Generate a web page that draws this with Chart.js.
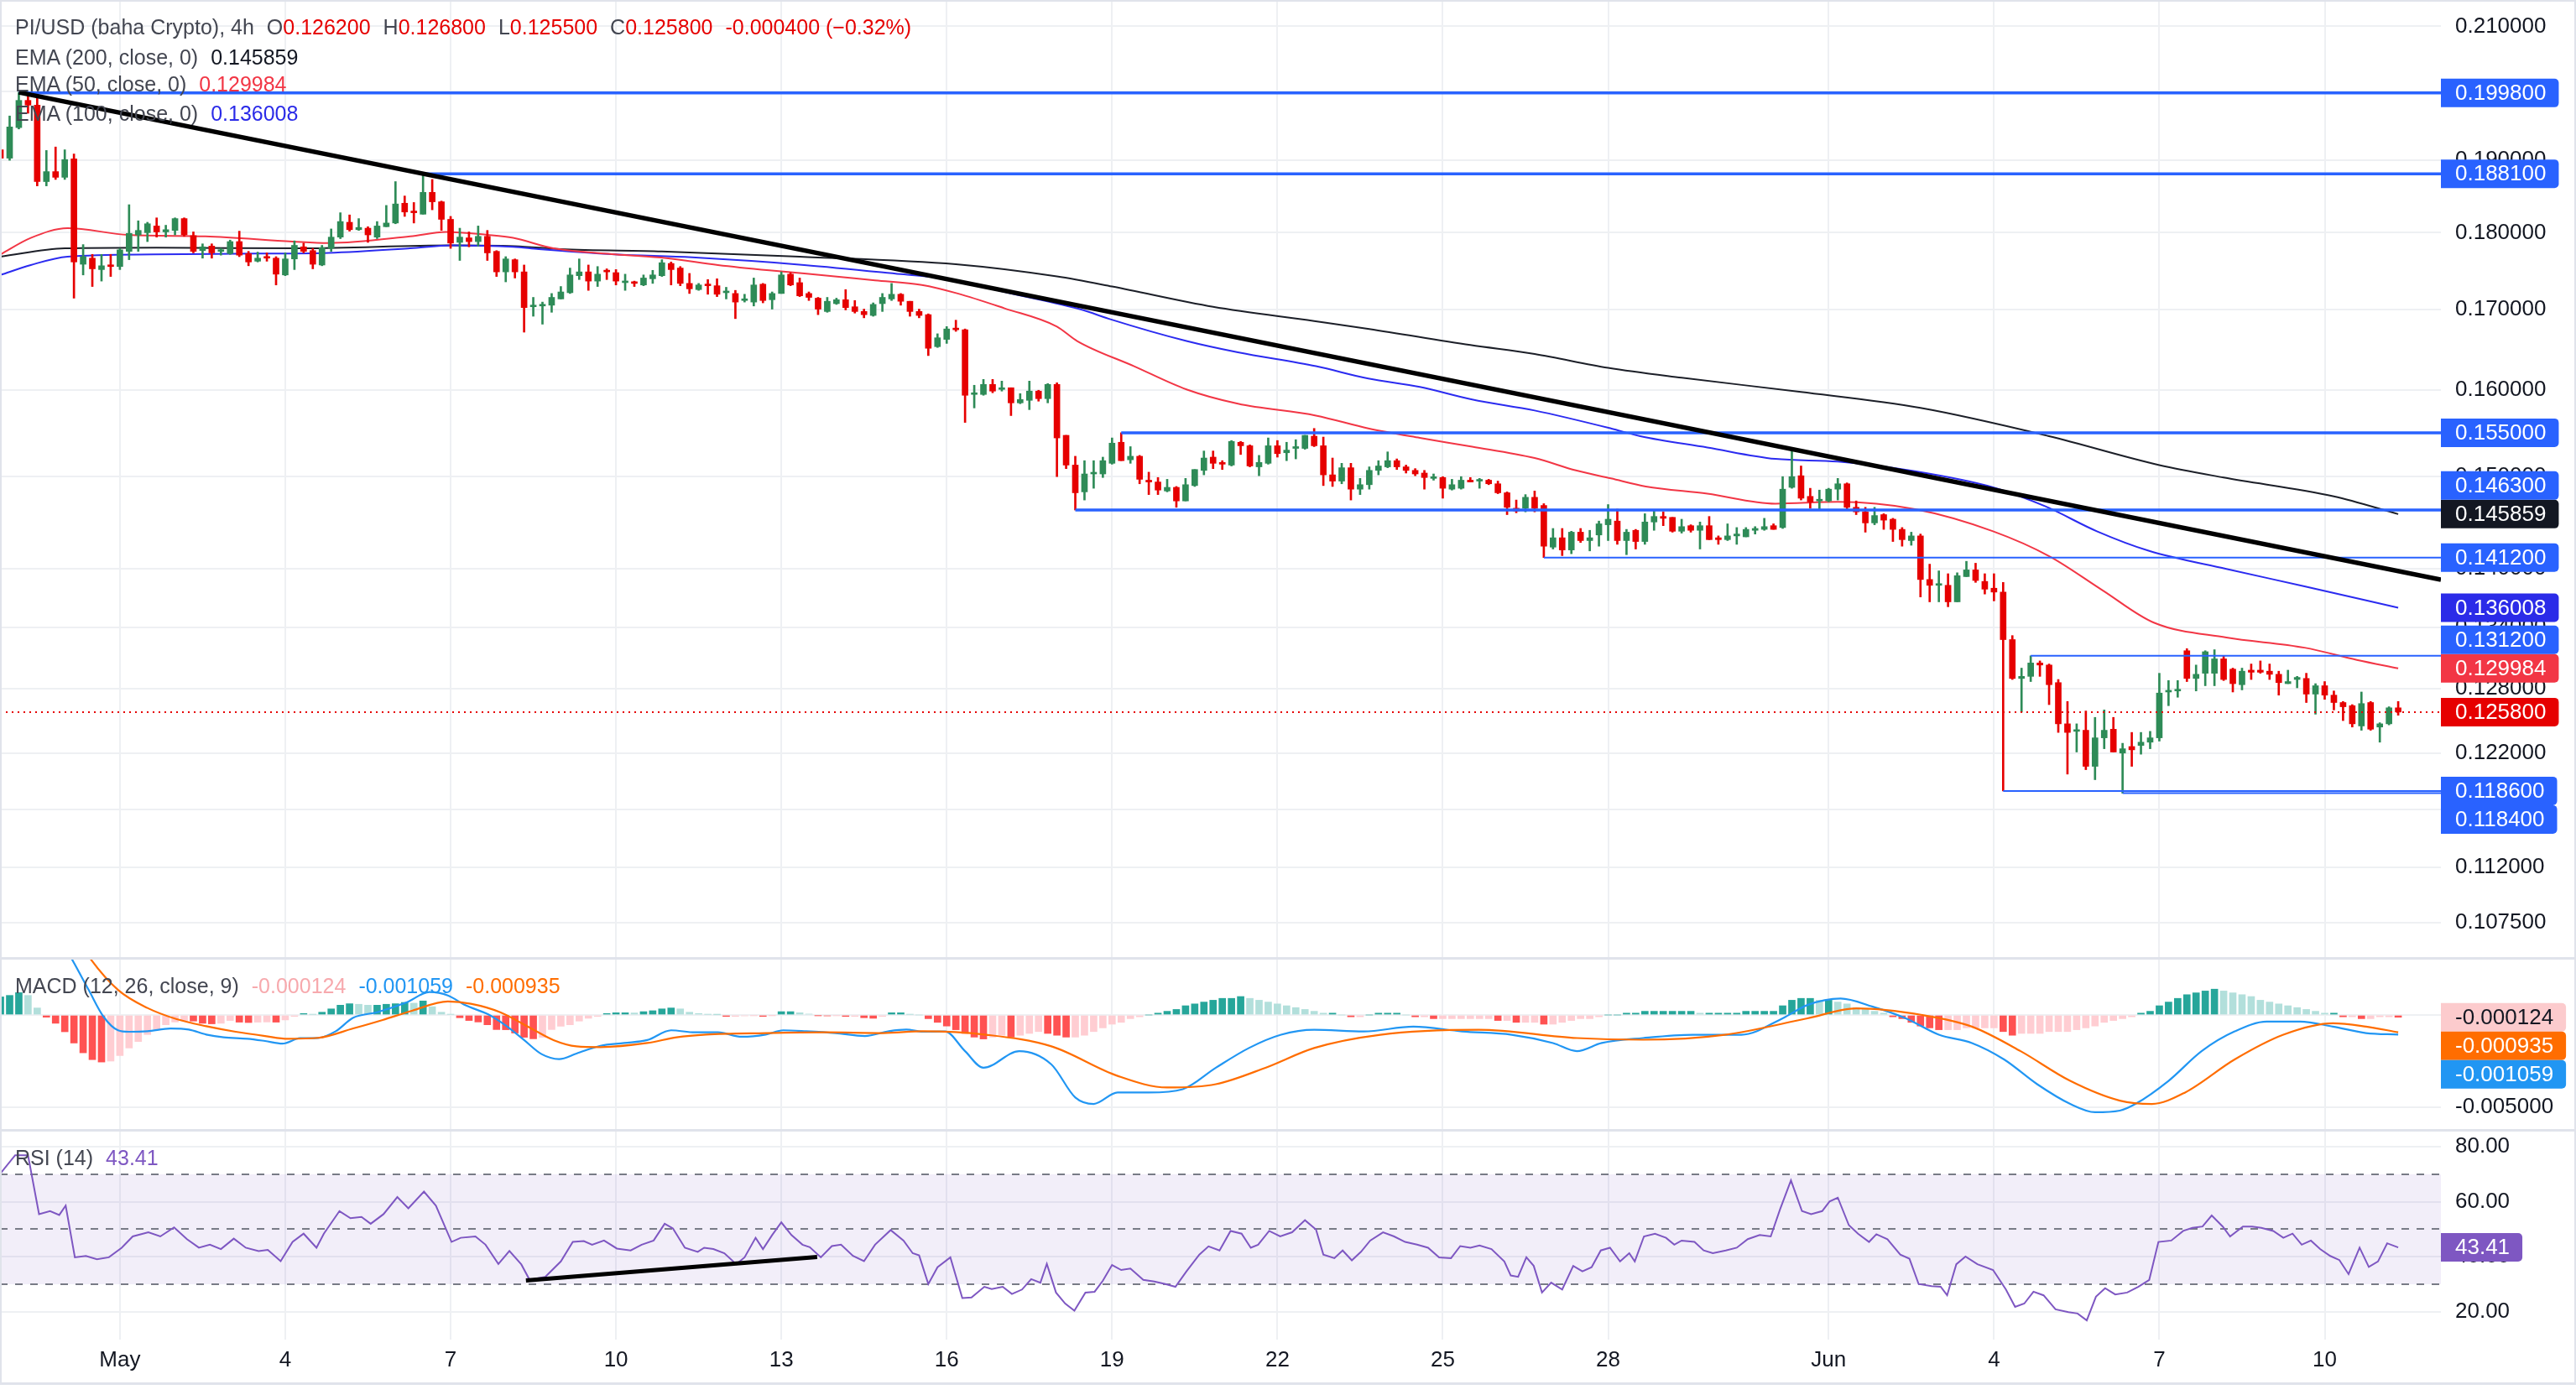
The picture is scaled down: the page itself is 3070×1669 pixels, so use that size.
<!DOCTYPE html>
<html>
<head>
<meta charset="utf-8">
<title>PI/USD 4h</title>
<script src="https://cdn.jsdelivr.net/npm/chart.js@4.4.1/dist/chart.umd.min.js"></script>
<style>
  html, body { margin: 0; padding: 0; background: #ffffff; }
  #chart { position: relative; width: 3070px; height: 1669px; overflow: hidden; font-family: "Liberation Sans", Arial, sans-serif; }
  #chart canvas { position: absolute; left: 0; }
  .rule { position: absolute; background: #e0e3eb; }
  .legend { position: absolute; left: 18px; font-size: 25px; line-height: 30px; color: #434651; white-space: pre; }
  .legend .g { margin-left: 15px; }
</style>
</head>
<body>
<div id="chart">
  <canvas id="pricePane" width="3070" height="1141" style="top:0"></canvas>
  <canvas id="macdPane" width="3070" height="202" style="top:1144px"></canvas>
  <canvas id="rsiPane" width="3070" height="300" style="top:1349px"></canvas>
  <div class="rule" style="left:0;top:0;width:3070px;height:2px"></div>
  <div class="rule" style="left:0;top:1141px;width:3070px;height:3px"></div>
  <div class="rule" style="left:0;top:1346px;width:3070px;height:3px"></div>
  <div class="rule" style="left:0;top:1648px;width:3070px;height:3px"></div>
  <div class="rule" style="left:0;top:0;width:2px;height:1650px"></div>
  <div class="rule" style="left:3068px;top:0;width:2px;height:1650px"></div>
  <div class="legend" id="lgMain" style="top:17px"></div>
  <div class="legend" id="lgE200" style="top:53px"></div>
  <div class="legend" id="lgE50" style="top:85px"></div>
  <div class="legend" id="lgE100" style="top:120px"></div>
  <div class="legend" id="lgMacd" style="top:1160px"></div>
  <div class="legend" id="lgRsi" style="top:1365px"></div>
</div>
<script>
// ---- data (4h candles, index 0 = Apr 28 20:00, index 13 = May 1 00:00) ----
const O = [
  0.1915,0.1903,0.1947,0.1987,0.1980,0.1870,0.1884,0.1876,0.1902,0.1758,
  0.1766,0.1751,0.1757,0.1755,0.1775,0.1797,0.1800,0.1809,0.1801,0.1803,
  0.1819,0.1796,0.1776,0.1782,0.1775,0.1772,0.1788,0.1772,0.1762,0.1767,
  0.1766,0.1744,0.1765,0.1781,0.1776,0.1757,0.1779,0.1794,0.1814,0.1804,
  0.1806,0.1794,0.1808,0.1813,0.1840,0.1829,0.1825,0.1855,0.1842,0.1818,
  0.1787,0.1793,0.1788,0.1795,0.1775,0.1748,0.1764,0.1748,0.1703,0.1704,
  0.1705,0.1713,0.1721,0.1743,0.1748,0.1736,0.1750,0.1747,0.1734,0.1734,
  0.1731,0.1739,0.1743,0.1759,0.1753,0.1733,0.1725,0.1732,0.1730,0.1721,
  0.1720,0.1711,0.1709,0.1732,0.1712,0.1720,0.1745,0.1734,0.1720,0.1714,
  0.1697,0.1707,0.1712,0.1703,0.1697,0.1692,0.1707,0.1713,0.1719,0.1710,
  0.1697,0.1693,0.1653,0.1662,0.1676,0.1674,0.1595,0.1595,0.1607,0.1601,
  0.1603,0.1585,0.1588,0.1599,0.1590,0.1607,0.1547,0.1513,0.1483,0.1503,
  0.1503,0.1515,0.1539,0.1519,0.1523,0.1496,0.1494,0.1484,0.1488,0.1473,
  0.1490,0.1507,0.1522,0.1516,0.1513,0.1539,0.1535,0.1511,0.1515,0.1535,
  0.1527,0.1532,0.1532,0.1546,0.1535,0.1502,0.1495,0.1510,0.1486,0.1491,
  0.1507,0.1511,0.1518,0.1511,0.1507,0.1504,0.1498,0.1499,0.1486,0.1487,
  0.1496,0.1495,0.1496,0.1492,0.1482,0.1465,0.1465,0.1477,0.1468,0.1423,
  0.1433,0.1420,0.1439,0.1430,0.1436,0.1447,0.1451,0.1430,0.1441,0.1429,
  0.1450,0.1456,0.1455,0.1440,0.1446,0.1441,0.1446,0.1433,0.1431,0.1435,
  0.1434,0.1441,0.1442,0.1446,0.1444,0.1488,0.1501,0.1478,0.1473,0.1473,
  0.1486,0.1492,0.1466,0.1461,0.1449,0.1458,0.1453,0.1442,0.1430,0.1435,
  0.1389,0.1383,0.1383,0.1366,0.1392,0.1399,0.1387,0.1380,0.1376,0.1328,
  0.1290,0.1292,0.1305,0.1303,0.1286,0.1247,0.1240,0.1241,0.1208,0.1234,
  0.1242,0.1220,0.1226,0.1227,0.1230,0.1234,0.1277,0.1278,0.1317,0.1290,
  0.1295,0.1295,0.1309,0.1299,0.1284,0.1298,0.1298,0.1297,0.1294,0.1285,
  0.1289,0.1290,0.1275,0.1283,0.1274,0.1267,0.1264,0.1245,0.1267,0.1244,
  0.1247,0.1262
];
const H = [
  0.1937,0.1964,0.1999,0.1996,0.1992,0.1914,0.1919,0.1915,0.1909,0.1784,
  0.1771,0.1771,0.1771,0.1779,0.1838,0.1816,0.1814,0.1820,0.1810,0.1820,
  0.1820,0.1801,0.1785,0.1785,0.1779,0.1790,0.1802,0.1775,0.1774,0.1773,
  0.1768,0.1773,0.1789,0.1786,0.1779,0.1783,0.1805,0.1827,0.1824,0.1819,
  0.1808,0.1815,0.1837,0.1870,0.1850,0.1841,0.1879,0.1873,0.1843,0.1822,
  0.1806,0.1801,0.1809,0.1803,0.1776,0.1768,0.1765,0.1757,0.1715,0.1709,
  0.1720,0.1729,0.1753,0.1765,0.1757,0.1755,0.1752,0.1751,0.1745,0.1736,
  0.1744,0.1750,0.1764,0.1761,0.1755,0.1746,0.1733,0.1738,0.1739,0.1728,
  0.1724,0.1719,0.1740,0.1733,0.1722,0.1748,0.1747,0.1740,0.1722,0.1715,
  0.1715,0.1714,0.1725,0.1711,0.1700,0.1708,0.1720,0.1733,0.1720,0.1710,
  0.1700,0.1694,0.1669,0.1678,0.1686,0.1675,0.1606,0.1613,0.1613,0.1611,
  0.1603,0.1596,0.1611,0.1600,0.1608,0.1609,0.1547,0.1523,0.1518,0.1518,
  0.1522,0.1544,0.1550,0.1534,0.1524,0.1505,0.1499,0.1497,0.1489,0.1498,
  0.1508,0.1529,0.1529,0.1518,0.1541,0.1540,0.1536,0.1524,0.1544,0.1541,
  0.1539,0.1542,0.1547,0.1555,0.1545,0.1521,0.1515,0.1515,0.1498,0.1511,
  0.1518,0.1528,0.1520,0.1513,0.1509,0.1507,0.1503,0.1500,0.1497,0.1500,
  0.1499,0.1498,0.1497,0.1495,0.1483,0.1474,0.1480,0.1484,0.1470,0.1443,
  0.1443,0.1440,0.1443,0.1441,0.1451,0.1469,0.1464,0.1442,0.1442,0.1459,
  0.1462,0.1461,0.1455,0.1453,0.1447,0.1450,0.1456,0.1435,0.1448,0.1444,
  0.1444,0.1445,0.1454,0.1448,0.1500,0.1531,0.1512,0.1487,0.1485,0.1487,
  0.1498,0.1493,0.1473,0.1466,0.1466,0.1459,0.1454,0.1444,0.1439,0.1437,
  0.1405,0.1398,0.1395,0.1396,0.1408,0.1406,0.1395,0.1395,0.1386,0.1332,
  0.1300,0.1312,0.1307,0.1304,0.1289,0.1268,0.1247,0.1259,0.1253,0.1260,
  0.1253,0.1229,0.1239,0.1239,0.1240,0.1295,0.1288,0.1288,0.1319,0.1303,
  0.1317,0.1318,0.1312,0.1300,0.1300,0.1304,0.1307,0.1304,0.1297,0.1298,
  0.1292,0.1295,0.1285,0.1287,0.1278,0.1268,0.1265,0.1277,0.1268,0.1248,
  0.1263,0.1268
];
const L = [
  0.1864,0.1900,0.1945,0.1968,0.1864,0.1864,0.1873,0.1873,0.1714,0.1744,
  0.1729,0.1736,0.1742,0.1751,0.1764,0.1775,0.1788,0.1794,0.1794,0.1797,
  0.1795,0.1773,0.1766,0.1766,0.1770,0.1771,0.1768,0.1756,0.1761,0.1762,
  0.1731,0.1743,0.1751,0.1773,0.1752,0.1756,0.1775,0.1792,0.1802,0.1803,
  0.1787,0.1792,0.1808,0.1812,0.1822,0.1813,0.1825,0.1831,0.1803,0.1779,
  0.1763,0.1781,0.1782,0.1763,0.1742,0.1735,0.1740,0.1671,0.1691,0.1681,
  0.1696,0.1713,0.1720,0.1738,0.1724,0.1729,0.1738,0.1731,0.1724,0.1729,
  0.1730,0.1733,0.1742,0.1731,0.1730,0.1720,0.1724,0.1719,0.1716,0.1713,
  0.1688,0.1709,0.1704,0.1708,0.1700,0.1720,0.1730,0.1716,0.1711,0.1693,
  0.1696,0.1706,0.1699,0.1695,0.1689,0.1691,0.1697,0.1711,0.1705,0.1691,
  0.1689,0.1642,0.1652,0.1657,0.1672,0.1562,0.1579,0.1594,0.1597,0.1599,
  0.1570,0.1584,0.1577,0.1587,0.1585,0.1500,0.1509,0.1463,0.1474,0.1487,
  0.1499,0.1514,0.1518,0.1515,0.1492,0.1480,0.1480,0.1483,0.1466,0.1473,
  0.1489,0.1502,0.1509,0.1508,0.1512,0.1525,0.1511,0.1501,0.1514,0.1522,
  0.1518,0.1520,0.1531,0.1534,0.1490,0.1489,0.1492,0.1474,0.1480,0.1486,
  0.1502,0.1510,0.1508,0.1504,0.1501,0.1486,0.1496,0.1476,0.1485,0.1486,
  0.1494,0.1487,0.1491,0.1481,0.1458,0.1460,0.1461,0.1461,0.1412,0.1421,
  0.1414,0.1416,0.1428,0.1419,0.1424,0.1430,0.1426,0.1415,0.1421,0.1426,
  0.1441,0.1446,0.1439,0.1438,0.1439,0.1421,0.1431,0.1426,0.1430,0.1426,
  0.1434,0.1437,0.1441,0.1442,0.1443,0.1487,0.1474,0.1465,0.1464,0.1472,
  0.1474,0.1464,0.1458,0.1439,0.1447,0.1442,0.1429,0.1424,0.1425,0.1371,
  0.1366,0.1366,0.1361,0.1366,0.1392,0.1386,0.1374,0.1367,0.1186,0.1289,
  0.1258,0.1287,0.1292,0.1265,0.1239,0.1201,0.1221,0.1205,0.1196,0.1224,
  0.1221,0.1184,0.1208,0.1219,0.1224,0.1231,0.1264,0.1272,0.1287,0.1278,
  0.1283,0.1283,0.1288,0.1277,0.1279,0.1289,0.1295,0.1289,0.1274,0.1285,
  0.1281,0.1267,0.1256,0.1270,0.1260,0.1250,0.1244,0.1241,0.1241,0.1230,
  0.1246,0.1255
];
const C = [
  0.1903,0.1948,0.1987,0.1980,0.1870,0.1884,0.1876,0.1901,0.1761,0.1768,
  0.1752,0.1756,0.1755,0.1777,0.1799,0.1803,0.1812,0.1801,0.1804,0.1819,
  0.1797,0.1775,0.1781,0.1773,0.1776,0.1788,0.1770,0.1761,0.1766,0.1766,
  0.1745,0.1765,0.1783,0.1775,0.1758,0.1780,0.1794,0.1815,0.1804,0.1807,
  0.1797,0.1809,0.1813,0.1839,0.1828,0.1827,0.1855,0.1842,0.1818,0.1786,
  0.1794,0.1788,0.1795,0.1773,0.1748,0.1765,0.1748,0.1702,0.1705,0.1706,
  0.1715,0.1722,0.1744,0.1748,0.1736,0.1745,0.1748,0.1736,0.1736,0.1733,
  0.1740,0.1744,0.1760,0.1751,0.1733,0.1726,0.1731,0.1730,0.1719,0.1723,
  0.1709,0.1713,0.1731,0.1711,0.1720,0.1744,0.1731,0.1717,0.1715,0.1700,
  0.1710,0.1712,0.1702,0.1697,0.1693,0.1706,0.1715,0.1719,0.1710,0.1697,
  0.1692,0.1651,0.1664,0.1675,0.1674,0.1594,0.1597,0.1607,0.1599,0.1603,
  0.1585,0.1589,0.1599,0.1590,0.1607,0.1544,0.1513,0.1482,0.1503,0.1504,
  0.1518,0.1538,0.1518,0.1523,0.1497,0.1494,0.1485,0.1488,0.1473,0.1491,
  0.1508,0.1521,0.1515,0.1514,0.1540,0.1535,0.1512,0.1516,0.1535,0.1526,
  0.1530,0.1534,0.1547,0.1535,0.1502,0.1495,0.1510,0.1486,0.1491,0.1507,
  0.1512,0.1518,0.1511,0.1507,0.1503,0.1499,0.1499,0.1487,0.1491,0.1496,
  0.1494,0.1496,0.1492,0.1482,0.1466,0.1462,0.1477,0.1465,0.1424,0.1433,
  0.1420,0.1439,0.1430,0.1433,0.1448,0.1453,0.1430,0.1439,0.1429,0.1450,
  0.1456,0.1454,0.1440,0.1445,0.1441,0.1446,0.1431,0.1431,0.1435,0.1437,
  0.1442,0.1443,0.1445,0.1442,0.1486,0.1500,0.1476,0.1472,0.1474,0.1486,
  0.1492,0.1466,0.1461,0.1449,0.1457,0.1452,0.1442,0.1431,0.1435,0.1389,
  0.1383,0.1384,0.1366,0.1393,0.1399,0.1388,0.1379,0.1376,0.1328,0.1290,
  0.1292,0.1305,0.1303,0.1284,0.1247,0.1239,0.1241,0.1208,0.1234,0.1241,
  0.1221,0.1224,0.1223,0.1230,0.1234,0.1276,0.1278,0.1279,0.1290,0.1294,
  0.1316,0.1309,0.1289,0.1285,0.1297,0.1296,0.1296,0.1294,0.1286,0.1287,
  0.1291,0.1275,0.1283,0.1274,0.1267,0.1263,0.1247,0.1266,0.1242,0.1247,
  0.1262,0.1258
];

// EMA read-offs: [candle index, value]
const ema200Pts = [[0,0.1768],[7,0.1779],[17,0.1780],[33,0.1779],[49,0.1783],[56,0.1782],[61,0.1778],[72,0.1775],[87,0.1768],[104,0.1758],[115,0.1742],[121,0.1729],[132,0.1703],[143,0.1685],[149,0.1675],[160,0.1655],[167,0.1644],[175,0.1627],[183,0.1615],[196,0.1598],[209,0.1579],[223,0.1546],[235,0.1513],[242,0.1499],[254,0.1478],[261,0.145859]];
const ema50Pts = [[0,0.1771],[3.3,0.1793],[7.3,0.1806],[13.9,0.1797],[22.3,0.1795],[31.8,0.1788],[35.7,0.1786],[44.6,0.1795],[48.5,0.1801],[53,0.1797],[55.8,0.1793],[60.2,0.1779],[66.9,0.1771],[72.5,0.1766],[78.1,0.1757],[83.7,0.1750],[87.5,0.1746],[95.2,0.1737],[100.3,0.1731],[104.2,0.1720],[109.3,0.1701],[115,0.1678],[117.2,0.1660],[123.4,0.1629],[129.1,0.1601],[134.7,0.1584],[143.2,0.1570],[148.9,0.1555],[154.5,0.1544],[160.2,0.1534],[167,0.1521],[171.5,0.1507],[175.3,0.1498],[179.1,0.1489],[185.8,0.1481],[193.2,0.1470],[200,0.1472],[208.4,0.1464],[216.9,0.1440],[223.1,0.1413],[228.8,0.1378],[234.4,0.1345],[242.3,0.1330],[250.8,0.1320],[256.5,0.1308],[261,0.129984]];
const ema100Pts = [[0,0.1744],[3.3,0.1757],[7.3,0.1768],[16.7,0.1771],[27.9,0.1772],[35.7,0.1773],[44.6,0.1779],[49.1,0.1783],[55.8,0.1781],[58.6,0.1778],[66.9,0.1771],[75.3,0.1767],[87.5,0.1757],[98,0.1745],[103.7,0.1738],[109.3,0.1722],[117.8,0.1699],[120.6,0.1688],[129.1,0.1660],[134.7,0.1646],[143.2,0.1629],[148.9,0.1614],[154.5,0.1604],[160.2,0.1589],[167,0.1576],[175.3,0.1555],[178.5,0.1546],[185.8,0.1533],[193.2,0.1520],[200,0.1517],[208.4,0.1506],[216.9,0.1488],[222.6,0.1467],[228.2,0.1440],[233.9,0.1419],[242.3,0.1400],[250.8,0.1382],[261,0.136008]];

// drawn objects
const trendPts = [[2,0.1999],[265.65,0.13888]];
const levelPrices = [0.1998, 0.1881, 0.155, 0.1463, 0.1412, 0.1312, 0.1186, 0.1184];
const levelFrom = [2, 46, 122, 117, 168, 221, 218, 231];

// MACD (12, 26, close, 9)
const macdPts = [[0,0.0068],[3,0.0062],[6,0.0045],[7.6,0.00318],[9.6,0.00136],[11.2,-0.00008],[12.8,-0.00083],[14,-0.00091],[16,-0.00088],[18.5,-0.00073],[20.5,-0.00079],[22.4,-0.00106],[24.3,-0.00121],[26.9,-0.00129],[28.8,-0.00141],[30.7,-0.00155],[32.6,-0.00126],[34.6,-0.00124],[36.5,-0.00088],[38.4,-0.00015],[41,0.00015],[44.2,0.00068],[46.7,0.00124],[48.7,0.00106],[50.6,0.00053],[53.1,0.00003],[55.1,-0.00061],[57,-0.00136],[58.9,-0.00212],[60.8,-0.00239],[62.7,-0.00209],[65.3,-0.00167],[67.9,-0.00152],[70.4,-0.00136],[73,-0.00083],[75.6,-0.00094],[78.1,-0.00094],[80.7,-0.00118],[83.3,-0.00106],[85.2,-0.00083],[87.7,-0.00088],[90.9,-0.00098],[94.1,-0.00114],[96.7,-0.00088],[98.6,-0.00079],[100.4,-0.00091],[102.8,-0.00089],[105,-0.00196],[107,-0.00286],[110.9,-0.00196],[114.4,-0.00268],[117,-0.00447],[119,-0.00482],[121.6,-0.0042],[125,-0.0042],[128.7,-0.00402],[132.3,-0.00286],[135.9,-0.00179],[139.4,-0.00107],[143,-0.0008],[148.4,-0.00089],[153.8,-0.00063],[159.1,-0.00089],[164.5,-0.00107],[169,-0.00152],[171.6,-0.00196],[174.3,-0.00152],[178.8,-0.00125],[184.2,-0.00107],[189.5,-0.00107],[194,-0.00018],[196.7,0.00054],[200.3,0.00089],[203.8,0.00045],[207.4,-0.00018],[211,-0.00107],[214.6,-0.00152],[218.1,-0.00241],[221.7,-0.00375],[225.3,-0.00482],[228,-0.00527],[230.7,-0.00518],[232.4,-0.00482],[236,-0.00357],[239.6,-0.00196],[243.2,-0.00089],[246.7,-0.00036],[250.3,-0.00036],[253.9,-0.00063],[257.5,-0.00098],[261,-0.001059]];
const signalPts = [[0,0.0080],[4,0.0065],[8,0.0045],[9.6,0.00318],[12.8,0.00136],[16,0.00038],[19.2,-0.00023],[22.4,-0.00061],[25.6,-0.00091],[28.8,-0.00114],[31.3,-0.00129],[34.6,-0.00124],[38.4,-0.00073],[41.6,-0.00027],[44.8,0.00023],[48.7,0.00073],[51.2,0.00061],[54.4,0.00015],[57.6,-0.00068],[60.2,-0.00136],[62.7,-0.0017],[65.3,-0.00174],[70.4,-0.00152],[73.6,-0.00121],[76.8,-0.00106],[83.3,-0.00098],[89.7,-0.00094],[96.1,-0.00098],[100.4,-0.00088],[107.3,-0.00107],[114.4,-0.0017],[121.6,-0.0033],[127,-0.00393],[132.3,-0.00375],[137.7,-0.00286],[143,-0.00179],[150.2,-0.00107],[160.9,-0.0008],[171.6,-0.00125],[178.8,-0.00134],[187.7,-0.00107],[196.7,-0.00018],[202,0.00036],[209.2,0],[214.6,-0.00063],[219.9,-0.00196],[225.3,-0.00357],[230.7,-0.00464],[234.2,-0.00482],[237.8,-0.0042],[243.2,-0.00241],[248.5,-0.00107],[253.9,-0.00045],[257.5,-0.00063],[261,-0.000935]];
const hist = [
  0.00098,0.00106,0.00121,0.00106,0.00038,-0.00012,-0.00045,-0.00091,-0.00152,-0.00205,
  -0.00242,-0.00255,-0.00250,-0.00220,-0.00179,-0.00144,-0.00106,-0.00079,-0.00053,-0.00038,
  -0.00030,-0.00033,-0.00045,-0.00048,-0.00045,-0.00030,-0.00039,-0.00041,-0.00039,-0.00038,
  -0.00039,-0.00027,-0.00008,0.00008,0.00003,0.00015,0.00033,0.00053,0.00061,0.00058,
  0.00053,0.00053,0.00058,0.00061,0.00068,0.00064,0.00076,0.00045,0.00015,0.00003,
  -0.00015,-0.00030,-0.00038,-0.00053,-0.00079,-0.00080,-0.00098,-0.00121,-0.00129,-0.00121,
  -0.00079,-0.00061,-0.00053,-0.00033,-0.00018,-0.00008,0.00008,0.00012,0.00012,0.00011,
  0.00018,0.00023,0.00033,0.00038,0.00033,0.00015,0.00008,0.00003,0.00001,-0.00008,
  -0.00008,-0.00005,-0.00003,-0.00008,-0.00002,0.00018,0.00018,0.00012,0.00005,-0.00003,
  -0.00005,-0.00003,-0.00008,-0.00008,-0.00015,-0.00018,-0.00008,0.00012,0.00012,0.00003,
  0.00000,
  -0.0002,-0.0004,-0.0006,-0.0008,-0.0010,-0.0012,-0.0013,-0.0012,-0.0011,-0.0012,
  -0.0011,-0.0010,-0.0009,-0.0010,-0.0011,-0.0012,-0.0012,-0.0011,-0.0009,-0.0007,
  -0.0005,-0.0004,-0.0002,-0.0001,0.0000,0.0001,0.0002,0.0003,0.0005,0.0006,
  0.0007,0.0008,0.0009,0.0009,0.0010,0.0009,0.0008,0.0007,0.0006,0.0005,
  0.0004,0.0003,0.0002,0.0001,0.0001,0.0000,-0.0001,-0.0001,0.0000,0.0001,
  0.0001,0.0001,0.0000,-0.0001,-0.0001,-0.0002,-0.0002,-0.0002,-0.0002,-0.0002,
  -0.0002,-0.0002,-0.0003,-0.0003,-0.0004,-0.0004,-0.0004,-0.0005,-0.0005,-0.0004,
  -0.0003,-0.0002,-0.0002,-0.0001,0.0000,0.0000,0.0001,0.0001,0.0002,0.0002,
  0.0002,0.0002,0.0002,0.0002,0.0001,0.0001,0.0001,0.0001,0.0001,0.0002,
  0.0002,0.0002,0.0002,0.0005,0.0008,0.0009,0.0009,0.0008,0.0008,0.0007,
  0.0006,0.0004,0.0003,0.0002,0.0001,-0.0001,-0.0002,-0.0004,-0.0006,-0.0007,
  -0.0008,-0.0008,-0.0008,-0.0007,-0.0007,-0.0007,-0.0007,-0.0009,-0.0011,-0.0010,
  -0.0010,-0.0010,-0.0009,-0.0009,-0.0009,-0.0008,-0.0007,-0.0006,-0.0004,-0.0003,
  -0.0002,-0.0001,0.0001,0.0002,0.0005,0.0007,0.0009,0.0011,0.0012,0.0013,
  0.0014,0.0013,0.0012,0.0011,0.0010,0.0008,0.0007,0.0006,0.0005,0.0004,
  0.0003,0.0002,0.0001,0.0001,-0.0001,-0.0001,-0.0002,-0.0002,-0.0001,-0.0001,
  -0.000124
];

// RSI (14)
const rsiPts = [[0,70.3],[1.6,76.9],[3.0,76.9],[4.2,55.5],[5.4,56.6],[6.4,55.2],[7.1,58.6],[8.1,39.8],[9.3,40.3],[10.5,39.1],[11.8,39.8],[13.2,43.3],[14.4,47.4],[16.1,48.9],[17.4,47.4],[18.9,50.7],[20.3,46.4],[21.6,43.3],[22.8,44.4],[24.0,42.8],[25.4,46.6],[26.7,43.3],[28.1,42.1],[29.1,42.5],[30.5,38.4],[31.8,45.4],[33.0,48.4],[34.4,43.3],[35.2,48.4],[36.9,56.6],[38.1,54.0],[39.3,54.5],[40.3,52.0],[41.7,55.5],[43.2,61.7],[44.4,57.6],[46.1,63.7],[47.4,58.6],[49.1,45.4],[50.1,46.9],[51.7,47.4],[52.8,44.4],[54.2,37.4],[55.4,42.1],[56.7,37.2],[57.6,31.6],[59.3,32.7],[61.0,38.3],[62.3,45.4],[63.5,45.7],[64.4,44.4],[65.7,45.9],[67.1,43.0],[68.6,42.3],[69.8,44.4],[71.1,45.9],[72.3,52.0],[73.2,50.3],[74.5,43.3],[75.9,41.8],[76.6,43.3],[77.6,42.8],[78.8,41.3],[80.1,37.3],[81.0,39.8],[82.2,46.9],[83.0,42.8],[84.0,47.9],[85.0,52.5],[86.1,47.9],[87.3,44.4],[88.1,43.5],[89.3,39.8],[90.5,43.9],[91.5,44.4],[92.8,40.3],[94.0,38.4],[95.2,44.4],[96.9,49.7],[98.3,45.9],[99.3,41.3],[100.0,40.5],[101.0,30.1],[102.0,36.2],[103.4,39.8],[104.7,25.0],[105.7,25.2],[107.1,29.1],[107.9,28.3],[109.1,29.1],[110.1,26.5],[111.2,28.1],[112.2,31.9],[113.2,30.6],[113.9,37.4],[114.9,27.0],[115.9,23.0],[116.9,20.4],[118.1,27.0],[119.1,27.3],[120.0,31.3],[121.0,37.0],[122.0,35.2],[123.0,35.7],[124.4,31.6],[125.6,31.0],[126.8,30.1],[127.9,29.1],[129.1,34.7],[130.5,40.8],[131.5,43.8],[132.7,42.3],[133.9,49.4],[135.1,48.4],[136.1,43.3],[136.9,44.4],[138.1,49.4],[139.3,47.4],[140.6,48.9],[142.0,53.3],[143.2,49.9],[144.0,40.8],[145.2,39.5],[146.1,42.3],[147.1,38.7],[148.1,41.8],[149.1,45.9],[150.5,48.9],[151.7,47.4],[152.9,45.4],[154.2,44.4],[155.4,43.3],[156.6,39.8],[157.9,39.5],[158.9,43.9],[160.0,43.3],[161.0,44.1],[162.3,42.8],[163.7,38.3],[164.4,33.2],[165.2,32.7],[166.1,39.8],[166.9,36.7],[167.8,27.0],[168.8,30.6],[170.0,28.1],[171.2,36.7],[172.2,34.7],[173.2,36.2],[174.2,42.3],[175.2,43.3],[176.3,38.3],[177.3,41.3],[177.9,38.3],[178.9,47.4],[180.1,48.4],[181.3,46.9],[182.2,44.4],[183.0,45.9],[184.4,45.4],[185.4,42.3],[186.4,41.3],[187.8,42.3],[189.0,43.3],[190.2,46.4],[191.5,47.9],[192.7,47.4],[193.7,57.1],[194.9,67.8],[196.1,56.6],[197.1,55.5],[198.3,56.6],[199.1,60.1],[200.0,61.5],[201.2,51.5],[202.2,48.4],[203.4,45.4],[204.2,48.2],[205.4,46.4],[206.8,40.8],[207.8,39.3],[208.8,30.1],[210.2,29.3],[211.2,29.1],[211.9,26.0],[212.9,37.3],[213.9,40.1],[215.2,37.3],[216.9,35.2],[218.3,28.1],[219.3,21.8],[220.3,23.0],[221.3,27.3],[222.4,26.0],[223.7,20.9],[225.1,19.9],[226.1,19.4],[227.1,16.9],[228.1,25.5],[229.1,28.6],[230.2,26.3],[231.5,27.0],[232.7,29.1],[233.9,31.6],[234.9,45.4],[236.3,45.9],[237.6,49.4],[238.6,50.5],[239.7,51.0],[240.7,55.0],[241.9,51.0],[242.7,47.4],[244.1,51.0],[245.1,51.0],[246.1,50.5],[247.4,49.4],[248.5,46.9],[249.5,48.4],[250.5,44.4],[251.5,45.9],[252.5,42.8],[253.6,40.3],[254.6,38.8],[255.6,33.7],[256.8,43.3],[257.8,36.3],[258.8,38.3],[259.8,44.9],[261,43.41]];
const rsiTrendPts = [[57.2,31.4],[88.9,39.9]];
const rsiLevels = [70, 50, 30];

// axes
const dayTicks = [13, 31, 49, 67, 85, 103, 121, 139, 157, 175, 199, 217, 235, 253];
const dayLabels = ['May', '4', '7', '10', '13', '16', '19', '22', '25', '28', 'Jun', '4', '7', '10'];
const priceTicks = [0.21, 0.20, 0.19, 0.18, 0.17, 0.16, 0.15, 0.14, 0.134, 0.128, 0.122, 0.117, 0.112, 0.1075];
const macdTicks = [0, -0.005];
const rsiTicks = [80, 60, 40, 20];

// ---- layout / style ----
const X_MIN = -0.05, X_MAX = 265.65;
const FONT = '"Liberation Sans", Arial, sans-serif';
const GRID = '#eef0f3';
const TXT = '#131722';
const UP = '#2e8b57', DOWN = '#e60000';
const LEVEL = '#2962ff';
const LEVEL_WIDTHS = [3.5, 3.5, 3.5, 3.5, 2, 2, 2, 2];

const pts = arr => arr.map(([x, y]) => ({ x, y }));
const candleCol = O.map((o, i) => (C[i] >= o ? UP : DOWN));
const last = C.length - 1;

function xAxis(showLabels) {
  return {
    type: 'linear', min: X_MIN, max: X_MAX, offset: false,
    afterBuildTicks: s => { s.ticks = dayTicks.map(v => ({ value: v })); },
    afterFit: s => { s.paddingLeft = 0; s.paddingRight = 0; s.height = showLabels ? 52 : 0; },
    grid: { color: GRID, lineWidth: 2, drawTicks: false, offset: false },
    border: { display: false },
    ticks: {
      display: showLabels, autoSkip: false, maxRotation: 0, padding: 9,
      color: TXT, font: { family: FONT, size: 26 },
      callback: (v, i) => dayLabels[i]
    }
  };
}

function yAxis(extra, ticks, digits) {
  return Object.assign({
    position: 'right',
    afterBuildTicks: s => { s.ticks = ticks.map(v => ({ value: v })); },
    afterFit: s => { s.width = 161; s.paddingTop = 0; s.paddingBottom = 0; },
    grid: { color: GRID, lineWidth: 2, drawTicks: false },
    border: { display: false },
    ticks: { autoSkip: false, padding: 17, color: TXT, font: { family: FONT, size: 26 }, callback: v => Number(v).toFixed(digits) }
  }, extra);
}

// value tags on the right scale, pushed apart like the trading terminal does
const tagPlugin = {
  id: 'tags',
  afterDraw(chart, args, opts) {
    const list = opts.list || [];
    const { ctx } = chart;
    const ys = chart.scales.y;
    const x0 = chart.chartArea.right;
    const h = 34;
    const placed = [];
    ctx.save();
    ctx.font = '26px ' + FONT;
    ctx.textBaseline = 'middle';
    ctx.textAlign = 'left';
    list.forEach(t => {
      const nat = ys.getPixelForValue(t.value);
      let py = nat, dir = 0;
      for (let k = 0; k < 12; k++) {
        const hit = placed.find(p => Math.abs(p - py) < h - 0.5);
        if (hit === undefined) break;
        if (!dir) dir = nat < hit ? -1 : 1;
        py = hit + dir * h;
      }
      placed.push(py);
      const w = ctx.measureText(t.text).width + 32;
      ctx.fillStyle = t.bg;
      ctx.beginPath();
      ctx.roundRect(x0, py - h / 2, w, h, [0, 5, 5, 0]);
      ctx.fill();
      ctx.fillStyle = t.fg || '#ffffff';
      ctx.fillText(t.text, x0 + 17, py + 1);
    });
    ctx.restore();
  }
};

// RSI band 70/30 with dashed 70/50/30
const bandPlugin = {
  id: 'band',
  beforeDatasetsDraw(chart, args, opts) {
    if (!opts.levels) return;
    const { ctx, chartArea: a } = chart;
    const ys = chart.scales.y;
    const top = ys.getPixelForValue(Math.max(...opts.levels));
    const bot = ys.getPixelForValue(Math.min(...opts.levels));
    ctx.save();
    ctx.fillStyle = 'rgba(126, 87, 194, 0.1)';
    ctx.fillRect(a.left, top, a.right - a.left, bot - top);
    ctx.strokeStyle = '#787b86';
    ctx.lineWidth = 2;
    ctx.setLineDash([9, 9]);
    opts.levels.forEach(v => {
      const py = Math.round(ys.getPixelForValue(v));
      ctx.beginPath();
      ctx.moveTo(a.left, py);
      ctx.lineTo(a.right, py);
      ctx.stroke();
    });
    ctx.restore();
  }
};

const baseOpts = {
  responsive: false, animation: false, events: [],
  layout: { padding: 0 }
};

function lineDs(data, color, width, order, extra) {
  return Object.assign({
    type: 'line', data, borderColor: color, borderWidth: width,
    pointRadius: 0, fill: false, order
  }, extra || {});
}

// ---- price pane ----
const priceTags = [
  { value: ema200Pts[ema200Pts.length - 1][1], bg: '#131722' },
  { value: ema100Pts[ema100Pts.length - 1][1], bg: '#2b2be8' },
  { value: ema50Pts[ema50Pts.length - 1][1], bg: '#f23645' },
  { value: C[last], bg: DOWN }
].concat(levelPrices.map(v => ({ value: v, bg: LEVEL })))
 .map(t => Object.assign(t, { text: t.value.toFixed(6) }));

const priceDatasets = [
  lineDs(pts(trendPts), '#000000', 5.5, 0),
  ...levelPrices.map((v, k) => lineDs([{ x: levelFrom[k], y: v }, { x: X_MAX, y: v }], LEVEL, LEVEL_WIDTHS[k], 1)),
  lineDs([{ x: X_MIN, y: C[last] }, { x: X_MAX, y: C[last] }], DOWN, 2, 1, { borderDash: [2, 5] }),
  {
    type: 'bar', order: 2, grouped: false, barThickness: 7, minBarLength: 2,
    data: O.map((o, i) => ({ x: i, y: [o, C[i]] })), backgroundColor: candleCol
  },
  {
    type: 'bar', order: 3, grouped: false, barThickness: 2,
    data: O.map((o, i) => ({ x: i, y: [L[i], H[i]] })), backgroundColor: candleCol
  },
  lineDs(pts(ema50Pts), '#f23645', 2, 4, { cubicInterpolationMode: 'monotone' }),
  lineDs(pts(ema100Pts), '#2b2bf0', 2, 5, { cubicInterpolationMode: 'monotone' }),
  lineDs(pts(ema200Pts), '#1c1f28', 2, 6, { cubicInterpolationMode: 'monotone' })
];

new Chart(document.getElementById('pricePane'), {
  type: 'line',
  data: { datasets: priceDatasets },
  options: Object.assign({}, baseOpts, {
    plugins: { legend: { display: false }, tooltip: { enabled: false }, tags: { list: priceTags } },
    scales: {
      x: xAxis(false),
      y: yAxis({ type: 'logarithmic', min: 0.10475, max: 0.21418 }, priceTicks, 6)
    }
  }),
  plugins: [tagPlugin]
});

// ---- MACD pane ----
const histCol = hist.map((v, i) => {
  const p = i ? hist[i - 1] : v;
  if (v >= 0) return v >= p ? '#26a69a' : '#b2dfdb';
  return v < p ? '#ff5252' : '#ffcdd2';
});
const macdTags = [
  { value: hist[hist.length - 1], bg: '#fccbcd', fg: '#131722' },
  { value: signalPts[signalPts.length - 1][1], bg: '#ff6d00' },
  { value: macdPts[macdPts.length - 1][1], bg: '#2196f3' }
].map(t => Object.assign(t, { text: t.value.toFixed(6) }));

new Chart(document.getElementById('macdPane'), {
  type: 'line',
  data: {
    datasets: [
      lineDs(pts(signalPts), '#ff6d00', 2.2, 0, { cubicInterpolationMode: 'monotone' }),
      lineDs(pts(macdPts), '#2196f3', 2.2, 1, { cubicInterpolationMode: 'monotone' }),
      {
        type: 'bar', order: 2, grouped: false, barThickness: 8,
        data: hist.map((v, i) => ({ x: i, y: v })), backgroundColor: histCol
      }
    ]
  },
  options: Object.assign({}, baseOpts, {
    plugins: { legend: { display: false }, tooltip: { enabled: false }, tags: { list: macdTags } },
    scales: {
      x: xAxis(false),
      y: yAxis({ type: 'linear', min: -0.006182, max: 0.003 }, macdTicks, 6)
    }
  }),
  plugins: [tagPlugin]
});

// ---- RSI pane ----
const rsiLast = rsiPts[rsiPts.length - 1][1];
new Chart(document.getElementById('rsiPane'), {
  type: 'line',
  data: {
    datasets: [
      lineDs(pts(rsiTrendPts), '#000000', 5, 0),
      lineDs(pts(rsiPts), '#7e57c2', 2, 1)
    ]
  },
  options: Object.assign({}, baseOpts, {
    plugins: {
      legend: { display: false }, tooltip: { enabled: false },
      band: { levels: rsiLevels },
      tags: { list: [{ value: rsiLast, bg: '#7e57c2', text: rsiLast.toFixed(2) }] }
    },
    scales: {
      x: xAxis(true),
      y: yAxis({ type: 'linear', min: 9.9, max: 85.5 }, rsiTicks, 2)
    }
  }),
  plugins: [bandPlugin, tagPlugin]
});

// ---- legends ----
const f6 = v => v.toFixed(6);
const chg = C[last] - C[last - 1];
const pct = chg / C[last - 1] * 100;
const red = '#e60000';
const sp = (t, c, cls) => '<span' + (cls ? ' class="' + cls + '"' : '') + (c ? ' style="color:' + c + '"' : '') + '>' + t + '</span>';
document.getElementById('lgMain').innerHTML =
  'PI/USD (baha Crypto), 4h' +
  sp('O', null, 'g') + sp(f6(O[last]), red) +
  sp('H', null, 'g') + sp(f6(H[last]), red) +
  sp('L', null, 'g') + sp(f6(L[last]), red) +
  sp('C', null, 'g') + sp(f6(C[last]), red) +
  sp(chg.toFixed(6) + ' (' + (pct < 0 ? '\u2212' : '+') + Math.abs(pct).toFixed(2) + '%)', red, 'g');
document.getElementById('lgE200').innerHTML = 'EMA (200, close, 0)' + sp(f6(ema200Pts[ema200Pts.length - 1][1]), '#131722', 'g');
document.getElementById('lgE50').innerHTML = 'EMA (50, close, 0)' + sp(f6(ema50Pts[ema50Pts.length - 1][1]), '#f23645', 'g');
document.getElementById('lgE100').innerHTML = 'EMA (100, close, 0)' + sp(f6(ema100Pts[ema100Pts.length - 1][1]), '#2b2be8', 'g');
document.getElementById('lgMacd').innerHTML = 'MACD (12, 26, close, 9)' +
  sp(f6(hist[hist.length - 1]), '#f7a9ad', 'g') +
  sp(f6(macdPts[macdPts.length - 1][1]), '#2196f3', 'g') +
  sp(f6(signalPts[signalPts.length - 1][1]), '#ff6d00', 'g');
document.getElementById('lgRsi').innerHTML = 'RSI (14)' + sp(rsiLast.toFixed(2), '#7e57c2', 'g');
</script>
</body>
</html>
